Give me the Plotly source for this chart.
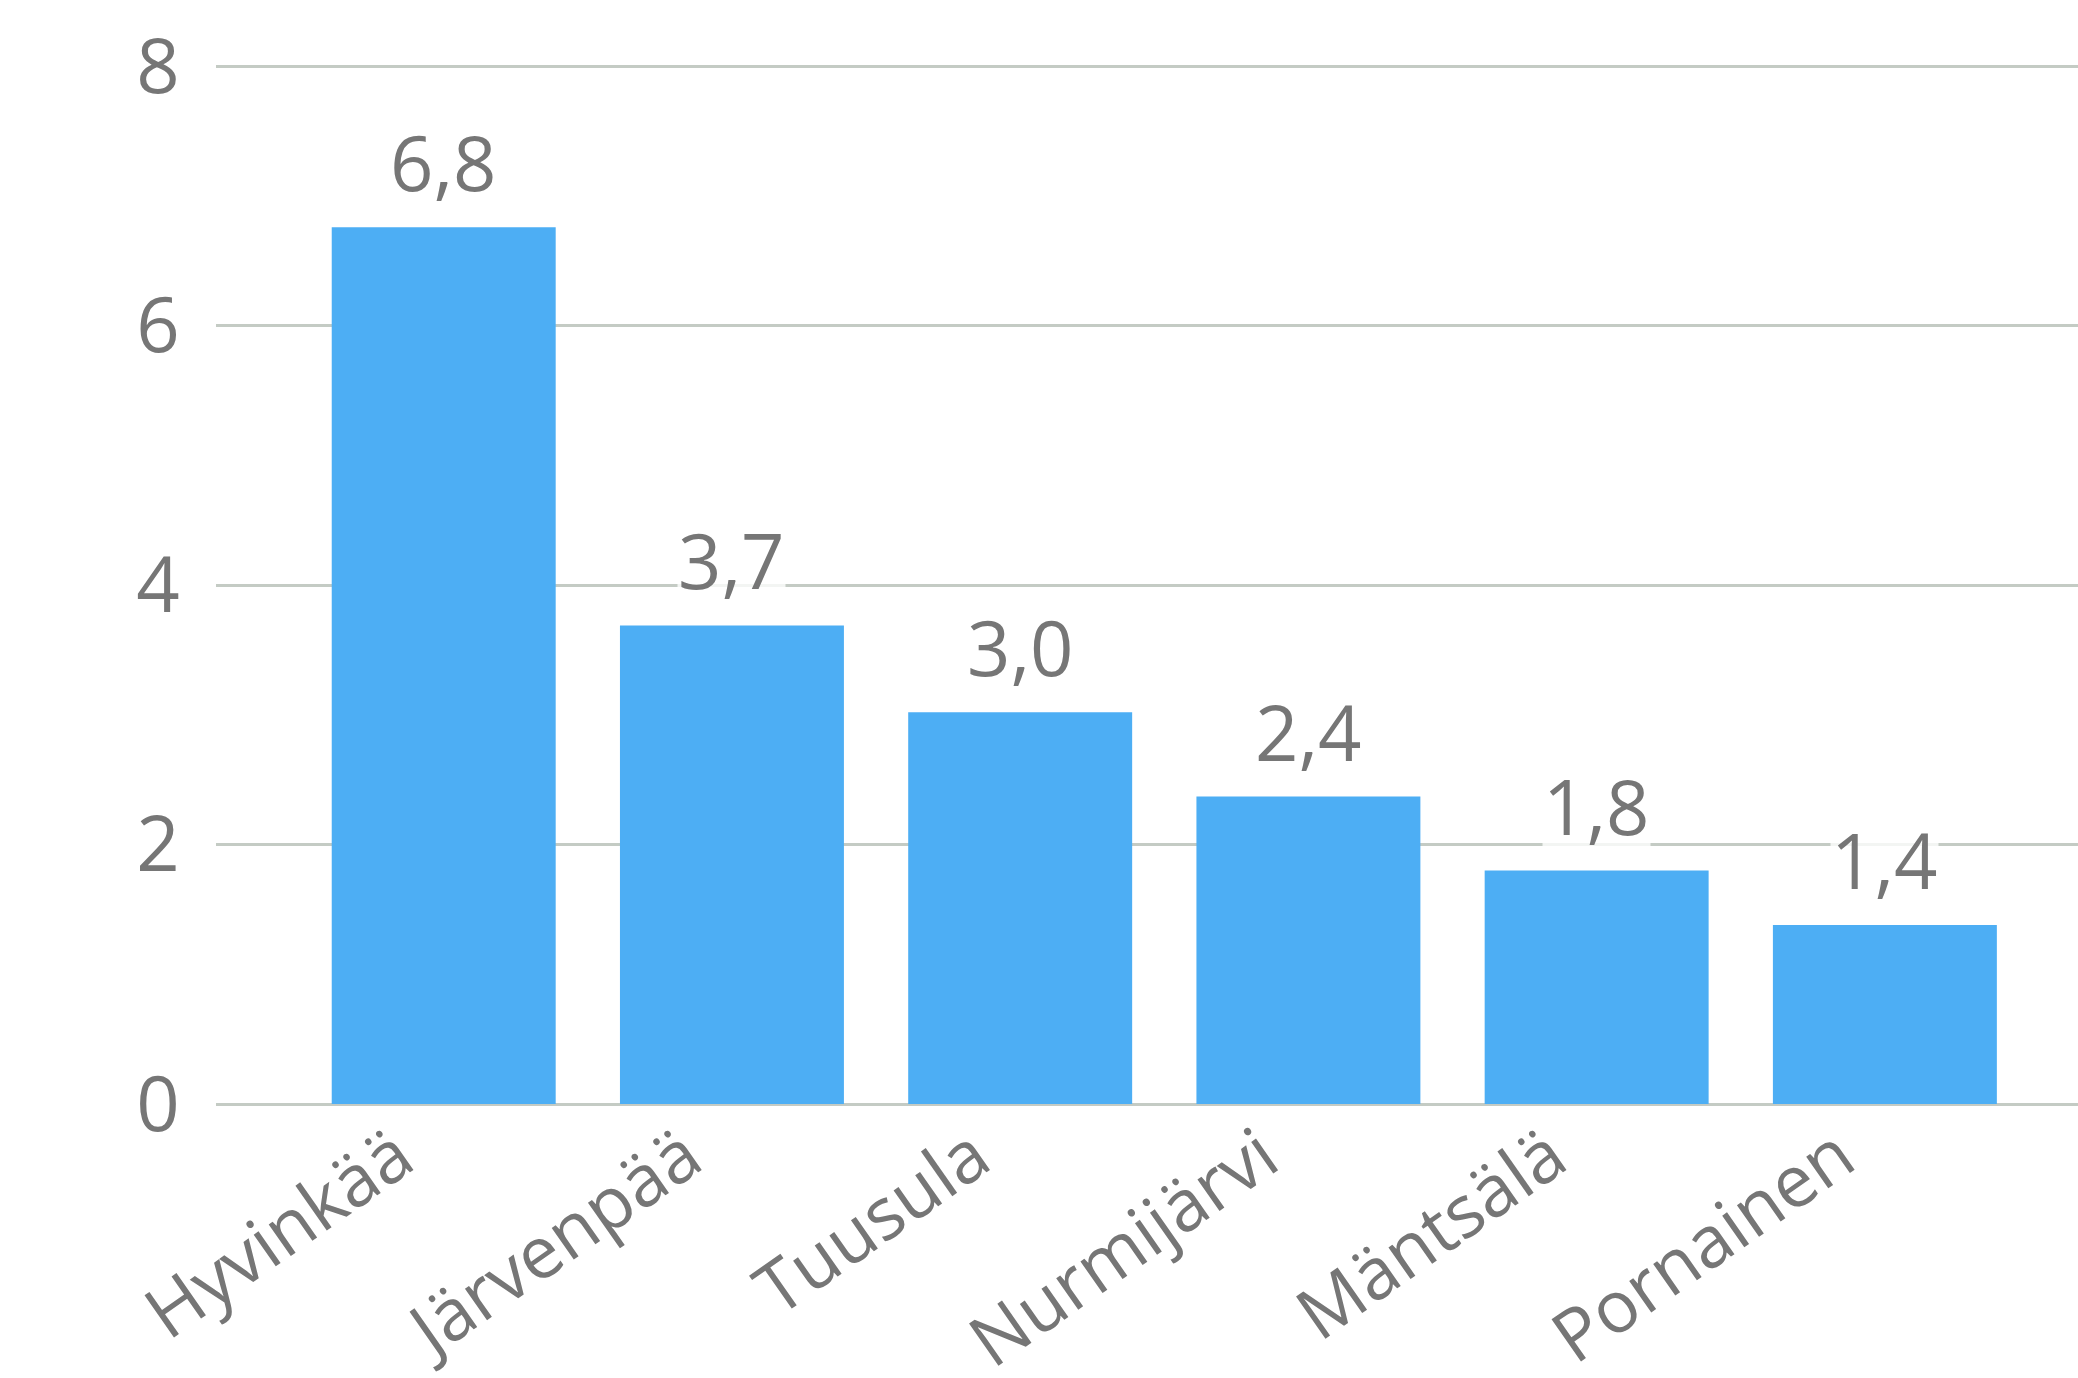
import plotly.graph_objects as go

categories = ["Hyvinkää", "Järvenpää", "Tuusula", "Nurmijärvi", "Mäntsälä", "Pornainen"]
values = [6.76, 3.69, 3.02, 2.37, 1.80, 1.38]
y_ticks = [0, 2, 4, 6, 8]

TEXT = "#767676"
BAR = "#4daef4"
GRID = "#c4cbc4"
FONT = "Open Sans"

fig = go.Figure()
fig.add_trace(go.Bar(
    x=categories, y=values, marker=dict(color=BAR, line=dict(width=0)),
    hoverinfo="skip",
))

for c, v in zip(categories, values):
    fig.add_annotation(
        x=c, y=v, xref="x", yref="y",
        text=f"{v:.1f}".replace(".", ","),
        showarrow=False, yanchor="bottom", yshift=13,
        font=dict(family=FONT, size=76, color=TEXT),
        bgcolor="rgba(255,255,255,0.8)", borderpad=0,
    )

fig.update_layout(
    width=2078, height=1378,
    margin=dict(l=216, r=0, t=56, b=274),
    paper_bgcolor="white", plot_bgcolor="white",
    bargap=0.223, showlegend=False,
    font=dict(family=FONT, color=TEXT),
)
fig.update_xaxes(
    range=[-0.79, 5.67], tickangle=-35, automargin=False,
    tickfont=dict(family=FONT, size=72, color=TEXT),
    showgrid=False, showline=False, zeroline=False,
    ticks="", ticklabelshift=-46, ticklabelstandoff=-4,
)
fig.update_yaxes(
    range=[0, 8.08], tickvals=y_ticks, ticktext=[str(t) for t in y_ticks],
    automargin=False,
    tickfont=dict(family=FONT, size=76, color=TEXT),
    showgrid=True, gridcolor=GRID, gridwidth=3,
    zeroline=True, zerolinecolor=GRID, zerolinewidth=3,
    showline=False,
    ticks="outside", ticklen=20, tickcolor="rgba(0,0,0,0)",
    layer="below traces",
)

fig.write_html(
    "out.html",
    config={"displayModeBar": False},
    post_script="document.body.style.margin='0';document.body.style.overflow='hidden';",
)
